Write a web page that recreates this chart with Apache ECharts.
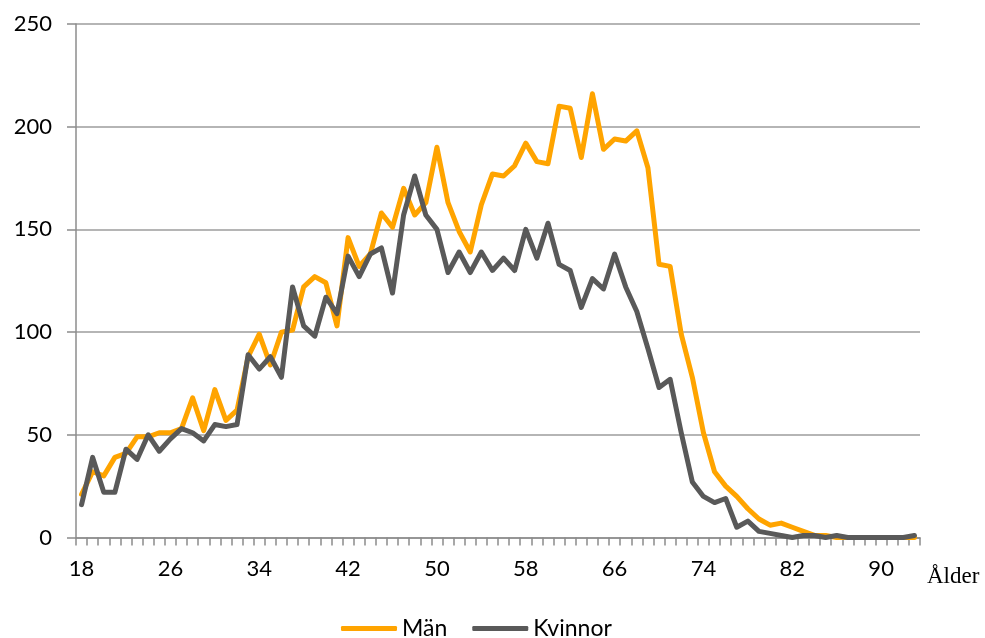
<!DOCTYPE html>
<html>
<head>
<meta charset="utf-8">
<script src="https://cdn.jsdelivr.net/npm/echarts@6/dist/echarts.min.js"></script>
<style>
html,body{margin:0;padding:0;background:#fff;}
#c{width:985px;height:638px;}
</style>
</head>
<body>
<div id="c"></div>
<script>
const ages = ['18','19','20','21','22','23','24','25','26','27','28','29','30','31','32','33','34','35','36','37','38','39','40','41','42','43','44','45','46','47','48','49','50','51','52','53','54','55','56','57','58','59','60','61','62','63','64','65','66','67','68','69','70','71','72','73','74','75','76','77','78','79','80','81','82','83','84','85','86','87','88','89','90','91','92','93'];
const man = [21,32,30,39,41,49,49,51,51,53,68,52,72,57,62,88,99,84,100,101,122,127,124,103,146,132,138,158,151,170,157,163,190,163,149,139,162,177,176,181,192,183,182,210,209,185,216,189,194,193,198,180,133,132,99,78,51,32,25,20,14,9,6,7,5,3,1,1,0,0,0,0,0,0,0,0];
const kvinnor = [16,39,22,22,43,38,50,42,48,53,51,47,55,54,55,89,82,88,78,122,103,98,117,109,137,127,138,141,119,157,176,157,150,129,139,129,139,130,136,130,150,136,153,133,130,112,126,121,138,122,110,92,73,77,51,27,20,17,19,5,8,3,2,1,0,1,1,0,1,0,0,0,0,0,0,1];
const seriesNames = ['Män','Kvinnor'];
const axisName = 'Ålder';

const chart = echarts.init(document.getElementById('c'), null, {renderer:'canvas'});
const labelFont = 'Lato';
chart.setOption({
  animation:false,
  backgroundColor:'#ffffff',
  grid:{left:76,right:65,top:24,bottom:100.5,containLabel:false},
  legend:{
    data:seriesNames,
    left:341, top:617,
    padding:0,
    icon:'roundRect',
    itemWidth:56, itemHeight:5,
    itemGap:25,
    textStyle:{fontFamily:labelFont,fontSize:23,color:'#000'}
  },
  xAxis:{
    type:'category',
    data:ages,
    boundaryGap:true,
    name:axisName,
    nameLocation:'end',
    nameGap:7,
    nameTextStyle:{fontFamily:'Liberation Serif',fontSize:23,color:'#000',verticalAlign:'top',padding:[28,0,0,0]},
    axisLine:{lineStyle:{color:'#8c8c8c',width:1.5}},
    axisTick:{show:true,interval:0,length:8,lineStyle:{color:'#8c8c8c',width:1.5}},
    axisLabel:{interval:7,margin:20,fontFamily:labelFont,fontSize:22,color:'#000'},
    splitLine:{show:false}
  },
  yAxis:{
    type:'value',
    min:0,max:250,interval:50,
    axisLine:{show:true,lineStyle:{color:'#8c8c8c',width:1.5}},
    axisTick:{show:true,length:9,lineStyle:{color:'#8c8c8c',width:1.5}},
    axisLabel:{margin:24,fontFamily:labelFont,fontSize:22,color:'#000'},
    splitLine:{show:true,lineStyle:{color:'#9c9c9c',width:1.5}}
  },
  series:[
    {name:seriesNames[0],type:'line',data:man,symbol:'none',showSymbol:false,
     lineStyle:{color:'#FFA400',width:5,join:'round',cap:'round'},itemStyle:{color:'#FFA400'}},
    {name:seriesNames[1],type:'line',data:kvinnor,symbol:'none',showSymbol:false,
     lineStyle:{color:'#595959',width:5,join:'round',cap:'round'},itemStyle:{color:'#595959'}}
  ]
});
</script>
</body>
</html>
